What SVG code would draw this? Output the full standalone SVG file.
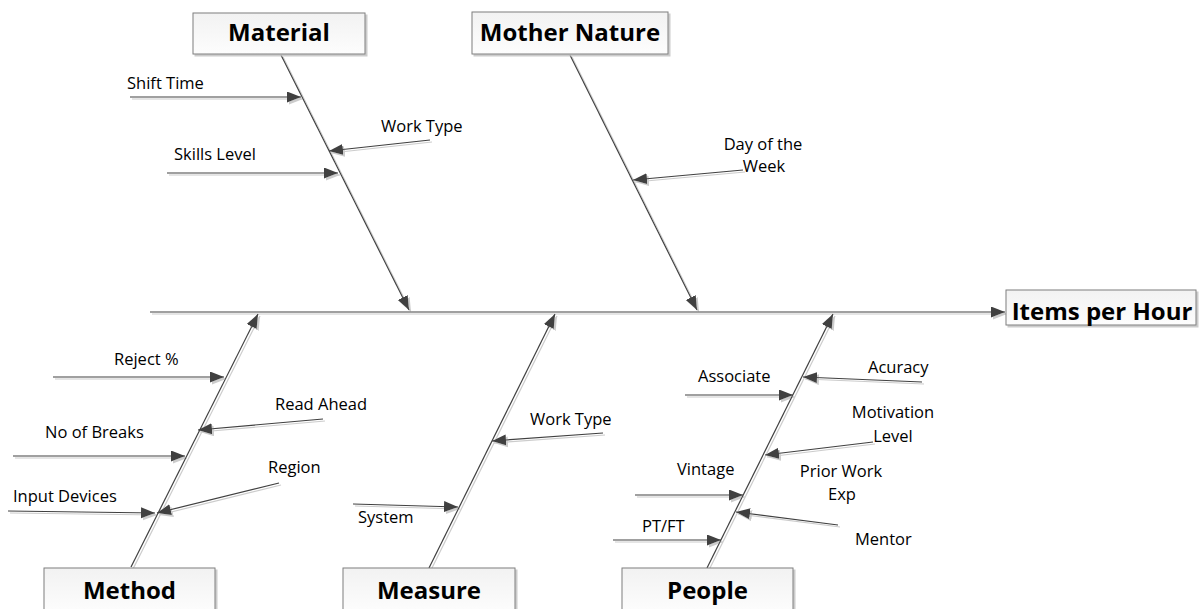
<svg xmlns="http://www.w3.org/2000/svg" width="1201" height="609" viewBox="0 0 1201 609">
<defs>
<linearGradient id="boxfill" x1="0" y1="0" x2="0" y2="1">
<stop offset="0" stop-color="#f2f2f2"/>
<stop offset="1" stop-color="#fdfdfd"/>
</linearGradient>
<filter id="shadow" x="-5%" y="-5%" width="115%" height="130%">
<feDropShadow dx="2" dy="2" stdDeviation="0.6" flood-color="#bfbfbf" flood-opacity="0.8"/>
</filter>
<marker id="arrow" markerUnits="userSpaceOnUse" markerWidth="15" markerHeight="12" refX="14" refY="5.5" orient="auto" viewBox="0 0 15 12">
<path d="M0,0 L14,5.5 L0,11 z" fill="#404040"/>
</marker>
</defs>
<style>
.box{fill:url(#boxfill);stroke:#7f7f7f;stroke-width:1;filter:url(#shadow)}
.title{font-family:"Open Sans","Liberation Sans",sans-serif;font-weight:700;font-size:24px;fill:#000;text-anchor:middle}
.lbl{font-family:"Open Sans","Liberation Sans",sans-serif;font-size:16.5px;fill:#000}
.mid{text-anchor:middle}
.con line{stroke:#404040;stroke-width:1.2;marker-end:url(#arrow)}
</style>
<rect width="1201" height="609" fill="#fff"/>
<g id="connectors" class="con" filter="url(#shadow)">
<line x1="150" y1="312" x2="1005" y2="312"/>
<line x1="281" y1="55" x2="409" y2="310"/>
<line x1="130" y1="97" x2="301" y2="97"/>
<line x1="430" y1="140" x2="329" y2="151"/>
<line x1="167" y1="173" x2="338" y2="173"/>
<line x1="570" y1="55" x2="697" y2="310"/>
<line x1="743" y1="170" x2="633" y2="180"/>
<line x1="131" y1="567" x2="258" y2="314"/>
<line x1="53" y1="377" x2="224" y2="377"/>
<line x1="323" y1="419" x2="198" y2="430"/>
<line x1="13" y1="456" x2="185" y2="456"/>
<line x1="279" y1="483" x2="157" y2="513"/>
<line x1="8" y1="511" x2="155" y2="513"/>
<line x1="429" y1="568" x2="555" y2="314"/>
<line x1="603" y1="433" x2="492" y2="441"/>
<line x1="353" y1="504" x2="458" y2="507"/>
<line x1="707" y1="568" x2="833" y2="314"/>
<line x1="685" y1="395" x2="793" y2="395"/>
<line x1="922" y1="382" x2="803" y2="377"/>
<line x1="873" y1="442" x2="765" y2="455"/>
<line x1="635" y1="495" x2="743" y2="495"/>
<line x1="838" y1="525" x2="736" y2="512"/>
<line x1="613" y1="540" x2="721" y2="540"/>
</g>
<g id="material"><rect class="box" x="193" y="13" width="172" height="41"/><text class="title" x="279" y="41">Material</text></g>
<g id="mother-nature"><rect class="box" x="472" y="12" width="196" height="42"/><text class="title" x="570" y="41">Mother Nature</text></g>
<g id="items-per-hour"><rect class="box" x="1006" y="290" width="190" height="35"/><text class="title" x="1102" y="320">Items per Hour</text></g>
<g id="method"><rect class="box" x="44" y="568" width="171" height="45"/><text class="title" x="129.5" y="599">Method</text></g>
<g id="measure"><rect class="box" x="343" y="568" width="172" height="45"/><text class="title" x="429" y="599">Measure</text></g>
<g id="people"><rect class="box" x="622" y="568" width="171" height="45"/><text class="title" x="707.5" y="599">People</text></g>
<g id="shift-time"><text class="lbl" x="127" y="89">Shift Time</text></g>
<g id="work-type-material"><text class="lbl" x="381" y="132">Work Type</text></g>
<g id="skills-level"><text class="lbl" x="174" y="160">Skills Level</text></g>
<g id="day-of-week"><text class="lbl mid" x="763" y="150">Day of the</text><text class="lbl mid" x="764" y="172">Week</text></g>
<g id="reject"><text class="lbl" x="114" y="365">Reject %</text></g>
<g id="read-ahead"><text class="lbl" x="275" y="410">Read Ahead</text></g>
<g id="no-of-breaks"><text class="lbl" x="45" y="438">No of Breaks</text></g>
<g id="region"><text class="lbl" x="268" y="473">Region</text></g>
<g id="input-devices"><text class="lbl" x="13" y="502">Input Devices</text></g>
<g id="work-type-measure"><text class="lbl" x="530" y="425">Work Type</text></g>
<g id="system"><text class="lbl" x="358" y="523">System</text></g>
<g id="associate"><text class="lbl" x="698" y="382">Associate</text></g>
<g id="acuracy"><text class="lbl" x="868" y="373">Acuracy</text></g>
<g id="motivation-level"><text class="lbl mid" x="893" y="418">Motivation</text><text class="lbl mid" x="893" y="442">Level</text></g>
<g id="vintage"><text class="lbl" x="677" y="475">Vintage</text></g>
<g id="prior-work-exp"><text class="lbl mid" x="841" y="477">Prior Work</text><text class="lbl mid" x="842" y="500">Exp</text></g>
<g id="mentor"><text class="lbl" x="855" y="545">Mentor</text></g>
<g id="pt-ft"><text class="lbl" x="642" y="532">PT/FT</text></g>
</svg>
